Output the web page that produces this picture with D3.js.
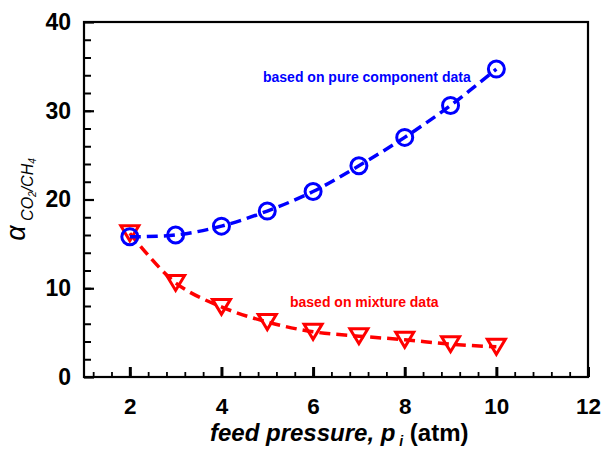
<!DOCTYPE html>
<html><head><meta charset="utf-8">
<script src="https://cdn.jsdelivr.net/npm/d3@7"></script>
<style>
html,body{margin:0;padding:0;background:#fff;}
svg{display:block;font-family:"Liberation Sans",Arial,sans-serif;}
</style></head>
<body>
<script>
const pressure = [2, 3, 4, 5, 6, 7, 8, 9, 10];
const pureComponent = [15.8, 16.0, 17.0, 18.7, 20.9, 23.8, 27.0, 30.6, 34.7];
const mixture = [16.2, 10.6, 7.9, 6.2, 5.1, 4.6, 4.2, 3.7, 3.4];
const xTickLabels = [2, 4, 6, 8, 10, 12];
const yTickLabels = [0, 10, 20, 30, 40];
const labelPure = "based on pure component data";
const labelMix = "based on mixture data";

const W = 603, H = 451;
const m = {left: 84, right: 15, top: 22, bottom: 74};
const svg = d3.select("body").append("svg").attr("width", W).attr("height", H);
const x = d3.scaleLinear().domain([1, 12]).range([m.left, W - m.right]);
const y = d3.scaleLinear().domain([0, 40]).range([H - m.bottom, m.top]);

const g = svg.append("g");
// minor ticks
const xMinor = d3.range(1.2, 11.99, 0.4);
g.append("g").attr("transform", `translate(0,${y(0)})`)
  .call(d3.axisBottom(x).tickValues(xMinor).tickSize(-5).tickFormat(""))
  .call(s => { s.select(".domain").remove(); s.selectAll("line").attr("stroke-width", 1.8); });
g.append("g").attr("transform", `translate(0,${y(0)})`)
  .call(d3.axisBottom(x).tickValues(xTickLabels).tickSizeInner(-10).tickSizeOuter(0).tickPadding(21))
  .call(s => {
    s.select(".domain").remove();
    s.selectAll("line").attr("stroke-width", 3);
    s.selectAll("text").attr("font-size", 22.5).attr("font-weight", "bold").attr("fill", "#000")
      .attr("font-family", "Liberation Sans, Arial, sans-serif");
  });
g.append("g").attr("transform", `translate(${x(1)},0)`)
  .call(d3.axisLeft(y).tickValues(d3.range(2, 40, 2)).tickSize(-7).tickFormat(""))
  .call(s => { s.select(".domain").remove(); s.selectAll("line").attr("stroke-width", 2); });
g.append("g").attr("transform", `translate(${x(1)},0)`)
  .call(d3.axisLeft(y).tickValues(yTickLabels).tickSizeInner(-10).tickSizeOuter(0).tickPadding(13))
  .call(s => {
    s.select(".domain").remove();
    s.selectAll("line").attr("stroke-width", 2.2);
    s.selectAll("text").attr("font-size", 23).attr("font-weight", "bold").attr("fill", "#000")
      .attr("font-family", "Liberation Sans, Arial, sans-serif");
  });

// frame
svg.append("rect").attr("x", x(1)).attr("y", y(40))
  .attr("width", x(12) - x(1)).attr("height", y(0) - y(40))
  .attr("fill", "none").attr("stroke", "#000").attr("stroke-width", 2.2);

const line = d3.line().x((d, i) => x(pressure[i])).y(d => y(d)).curve(d3.curveCatmullRom.alpha(0.5));

function series(vals, color, shape) {
  svg.append("path").attr("d", line(vals)).attr("fill", "none")
    .attr("stroke", color).attr("stroke-width", 3.5).attr("stroke-dasharray", "11,6");
  const mk = svg.append("g");
  vals.forEach((v, i) => {
    const cx = x(pressure[i]), cy = y(v);
    if (shape === "circle") {
      mk.append("circle").attr("cx", cx).attr("cy", cy).attr("r", 8)
        .attr("fill", "none").attr("stroke", color).attr("stroke-width", 3);
    } else {
      const w = 9, h = 7.5;
      mk.append("path").attr("d", `M${cx - w},${cy - h}L${cx + w},${cy - h}L${cx},${cy + h}Z`)
        .attr("fill", "none").attr("stroke", color).attr("stroke-width", 3).attr("stroke-linejoin", "miter");
    }
  });
}
series(mixture, "#ff0000", "tri");
series(pureComponent, "#0000ff", "circle");

svg.append("text").attr("x", 263).attr("y", 81.5).attr("font-size", 14).attr("font-weight", "bold")
  .attr("fill", "#0000ff").text(labelPure);
svg.append("text").attr("x", 290).attr("y", 306.5).attr("font-size", 14).attr("font-weight", "bold")
  .attr("fill", "#ff0000").text(labelMix);

// x title
const xt = svg.append("text").attr("x", 210).attr("y", 441)
  .attr("font-size", 24).attr("font-weight", "bold").attr("fill", "#000");
xt.append("tspan").attr("font-style", "italic").text("feed pressure, p");
xt.append("tspan").attr("font-style", "italic").attr("font-size", 14).attr("dy", 5).text(" i");
xt.append("tspan").attr("dy", -5).text(" (atm)");

// y title
const yt = svg.append("text").attr("transform", `translate(25,${(y(0) + y(40)) / 2}) rotate(-90)`)
  .attr("text-anchor", "middle").attr("fill", "#000").attr("font-style", "italic");
yt.append("tspan").attr("font-size", 27).text("α");
yt.append("tspan").attr("font-size", 16).attr("dy", 8).text(" CO");
yt.append("tspan").attr("font-size", 10).attr("dy", 3).text("2");
yt.append("tspan").attr("font-size", 16).attr("dy", -3).text("/CH");
yt.append("tspan").attr("font-size", 10).attr("dy", 3).text("4");
</script>
</body></html>
